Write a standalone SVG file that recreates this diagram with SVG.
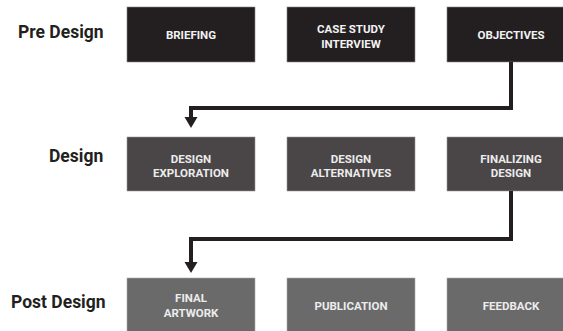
<svg xmlns="http://www.w3.org/2000/svg" width="563" height="331" viewBox="0 0 563 331">
<style>
.lbl{font-family:Roboto,"Liberation Sans",sans-serif;font-weight:700;font-size:17.5px;fill:#231f20}
.t{font-family:Roboto,"Liberation Sans",sans-serif;font-weight:700;font-size:11.5px;text-anchor:middle}
.r1 rect{fill:#231f20;stroke:#8a8889;stroke-width:0.6}
.r2 rect{fill:#4a4546;stroke:#9a9899;stroke-width:0.6}
.r3 rect{fill:#6b6a6a;stroke:#a8a8a8;stroke-width:0.6}
.r1 text{fill:#f2f2f2}
.r2 text{fill:#ececec}
.r3 text{fill:#ececec}
.c{fill:none;stroke:#231f20;stroke-width:4;stroke-linejoin:miter}
.ah{fill:#231f20}
</style>
<g id="labels">
<text class="lbl" x="18" y="38">Pre Design</text>
<text class="lbl" x="49" y="162">Design</text>
<text class="lbl" x="11" y="308">Post Design</text>
</g>
<g id="briefing" class="r1"><rect x="127" y="7" width="128" height="55"/><text class="t" x="191" y="39">BRIEFING</text></g>
<g id="case-study" class="r1"><rect x="287" y="7" width="128" height="55"/><text class="t" x="351" y="33">CASE STUDY</text><text class="t" x="351" y="47.5">INTERVIEW</text></g>
<g id="objectives" class="r1"><rect x="447" y="7" width="128" height="55"/><text class="t" x="511" y="39">OBJECTIVES</text></g>
<g id="design-exploration" class="r2"><rect x="127" y="137" width="128" height="54"/><text class="t" x="191" y="162.5">DESIGN</text><text class="t" x="191" y="177">EXPLORATION</text></g>
<g id="design-alternatives" class="r2"><rect x="287" y="137" width="128" height="54"/><text class="t" x="351" y="162.5">DESIGN</text><text class="t" x="351" y="177">ALTERNATIVES</text></g>
<g id="finalizing-design" class="r2"><rect x="447" y="137" width="128" height="54"/><text class="t" x="511" y="162.5">FINALIZING</text><text class="t" x="511" y="177">DESIGN</text></g>
<g id="final-artwork" class="r3"><rect x="127" y="278" width="128" height="55"/><text class="t" x="191" y="302">FINAL</text><text class="t" x="191" y="316.5">ARTWORK</text></g>
<g id="publication" class="r3"><rect x="287" y="278" width="128" height="55"/><text class="t" x="351" y="310">PUBLICATION</text></g>
<g id="feedback" class="r3"><rect x="447" y="278" width="128" height="55"/><text class="t" x="511" y="310">FEEDBACK</text></g>
<g id="connectors">
<path class="c" d="M511,62 V108 H191 V118"/>
<polygon class="ah" points="184.5,117 197.5,117 191,128"/>
<path class="c" d="M511,191 V239 H191 V263"/>
<polygon class="ah" points="184.5,262 197.5,262 191,273"/>
</g>
</svg>
